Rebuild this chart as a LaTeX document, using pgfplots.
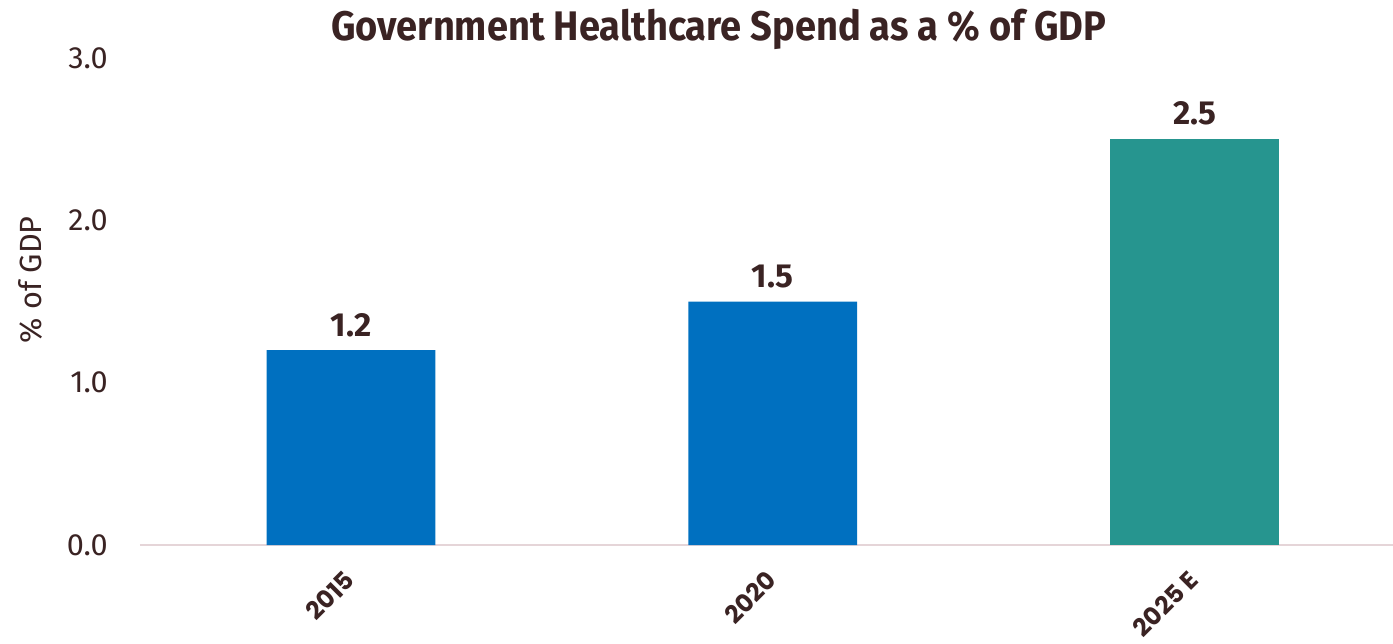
\documentclass[border=0pt]{standalone}
\usepackage{pgfplots}
\pgfplotsset{compat=1.18}
\usepackage{fontspec}
\setmainfont{Fira Sans}
\newfontfamily\popfont{Poppins}
\newfontfamily\titlefont[FakeStretch=0.92]{Fira Sans}
\definecolor{txt}{HTML}{3A2323}
\definecolor{barblue}{HTML}{0070C0}
\definecolor{barteal}{HTML}{26958F}
\definecolor{axln}{HTML}{E5D5D8}
\begin{document}
\begin{tikzpicture}
\begin{axis}[
  at={(0,0)}, anchor=south west,
  scale only axis, width=939.75pt, height=365.25pt,
  xmin=-0.5, xmax=2.47, ymin=0, ymax=3,
  axis x line*=bottom, axis y line*=left,
  y axis line style={draw=none},
  x axis line style={draw=axln, line width=1.2pt},
  major tick length=0pt,
  xtick={0,1,2}, xticklabels={2015,2020,2025 E},
  xticklabel style={font=\popfont\bfseries\fontsize{18.5}{22}\selectfont, text=txt, yshift=-18pt, xshift=-6pt, rotate=45, anchor=north east, inner sep=0pt},
  ytick={0,1,2,3},
  yticklabel style={font=\fontsize{23}{27}\selectfont, text=txt, anchor=east, inner sep=0pt, xshift=-24pt,
    /pgf/number format/.cd, fixed, fixed zerofill, precision=1, assume math mode=true},
  ybar, bar width=0.4, bar shift=0pt,
  nodes near coords,
  nodes near coords style={font=\bfseries\fontsize{25}{29}\selectfont, text=txt, anchor=south, inner sep=0pt, yshift=10pt,
    /pgf/number format/.cd, fixed, fixed zerofill, precision=1, assume math mode=true},
  clip=false,
]
\addplot[fill=barblue, draw=none] coordinates {(0,1.2) (1,1.5)};
\addplot[fill=barteal, draw=none] coordinates {(2,2.5)};
\end{axis}
\node[rotate=90, text=txt, font=\fontsize{23}{27}\selectfont] at (-82.5pt,199pt) {\% of GDP};
\node[text=txt, font=\titlefont\bfseries\fontsize{31}{35}\selectfont] at (434pt,387pt) {Government Healthcare Spend as a \% of GDP};
\pgfresetboundingbox
\path[use as bounding box] (-105pt,-73.5pt) rectangle (939.75pt,408.75pt);
\end{tikzpicture}
\end{document}
